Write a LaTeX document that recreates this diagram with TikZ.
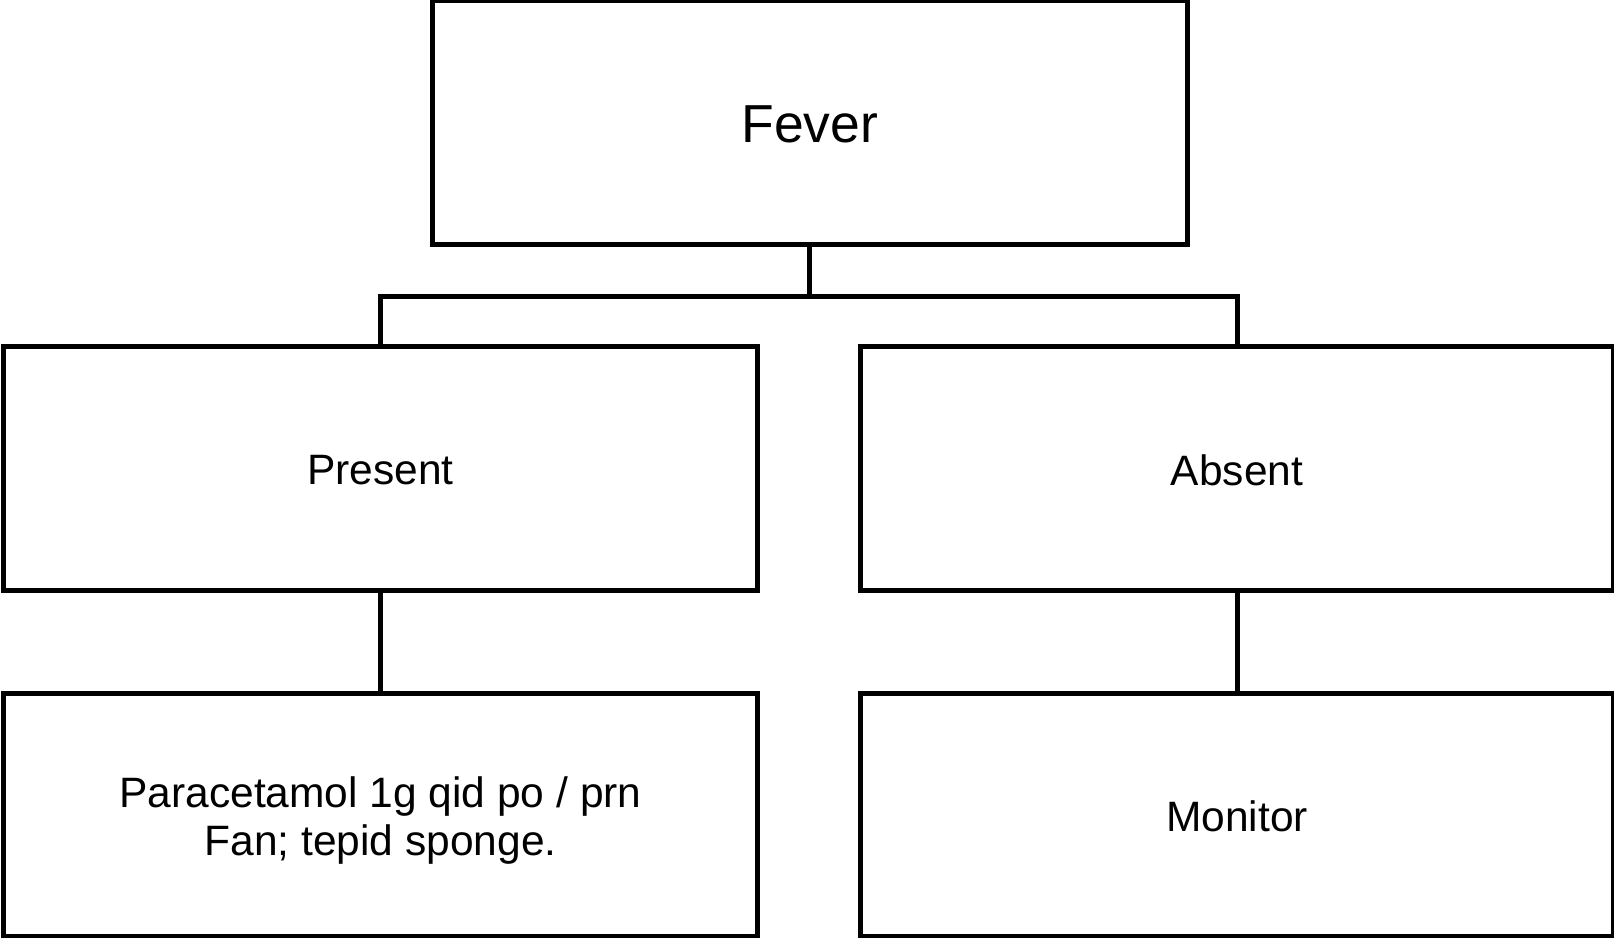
\documentclass[tikz,border=0pt]{standalone}
\usepackage{fontspec}
\setmainfont{Liberation Sans}
% lower a label without changing the box size TikZ sees
\newcommand{\dropby}[2]{\raisebox{-#1}[\height][\depth]{#2}}
\begin{document}
\begin{tikzpicture}[x=1pt,y=-1pt,
  box/.style={draw=black, line width=5pt, rectangle, inner sep=0pt, outer sep=0pt,
    align=center, minimum height=244pt},
  big/.style={font=\fontsize{53.5}{62}\selectfont},
  txt/.style={font=\fontsize{42.5}{48}\selectfont},
  link/.style={draw=black, line width=5pt}]
\useasboundingbox (0,0) rectangle (1614,937);
\node[box, big, minimum width=754.5pt] (fever) at (809.75,122) {\dropby{2pt}{Fever}};
\node[box, txt, minimum width=754pt] (present) at (380.5,468.5) {\dropby{2pt}{Present}};
\node[box, txt, minimum width=753pt] (absent) at (1237,468.5) {\dropby{2pt}{Absent}};
\node[box, txt, minimum width=754pt, minimum height=243pt] (para) at (380.5,815)
  {\dropby{6.5pt}{\begin{tabular}{@{}c@{}}Paracetamol 1g qid po / prn\\Fan; tepid sponge.\end{tabular}}};
\node[box, txt, minimum width=753pt, minimum height=243pt] (monitor) at (1237,815) {\dropby{1pt}{Monitor}};
% tree connectors
\draw[link] (fever.south) -- ++(0,52.5) coordinate (split);
\draw[link] (present.north) |- (split) -| (absent.north);
\draw[link] (present.south) -- (para.north);
\draw[link] (absent.south) -- (monitor.north);
\end{tikzpicture}
\end{document}
